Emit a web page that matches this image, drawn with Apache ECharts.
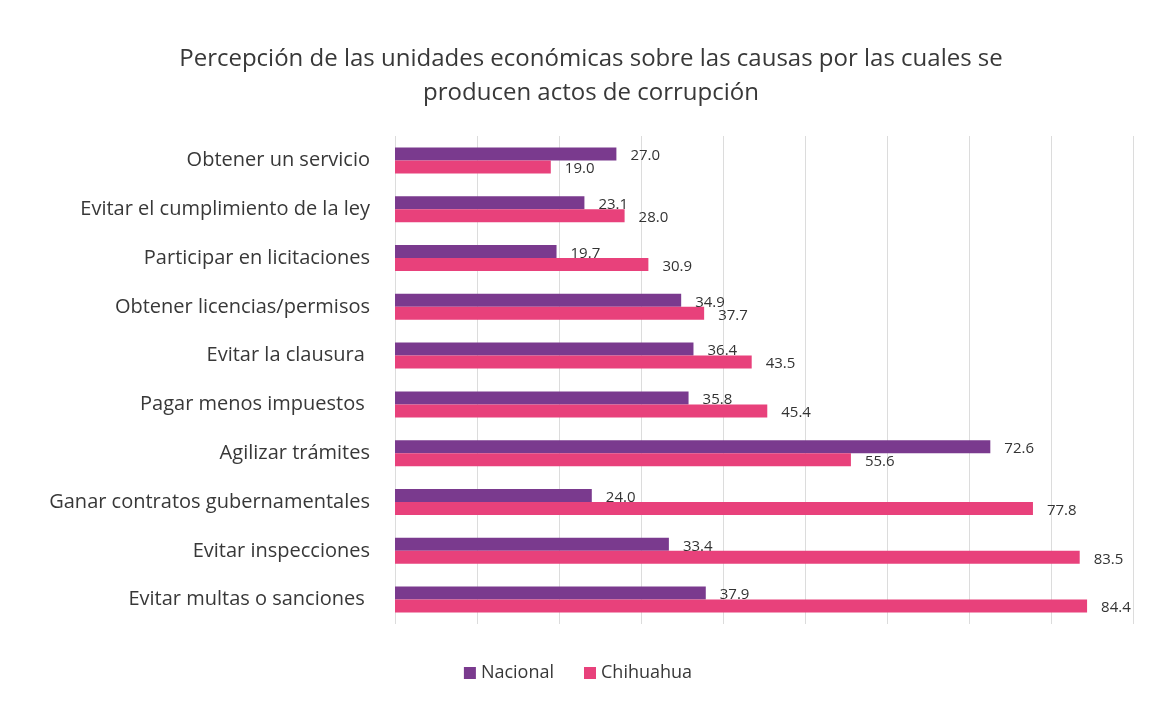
<!DOCTYPE html>
<html>
<head>
<meta charset="utf-8">
<script src="https://cdn.jsdelivr.net/npm/echarts@6/dist/echarts.min.js"></script>
<style>
  html, body { margin: 0; padding: 0; background: #ffffff; }
  #chart { width: 1156px; height: 708px; }
</style>
</head>
<body>
<div id="chart"></div>
<script>
// Causes of corruption as perceived by businesses (%)
const categories = [
  'Obtener un servicio',
  'Evitar el cumplimiento de la ley',
  'Participar en licitaciones',
  'Obtener licencias/permisos',
  'Evitar la clausura ',
  'Pagar menos impuestos ',
  'Agilizar trámites',
  'Ganar contratos gubernamentales',
  'Evitar inspecciones',
  'Evitar multas o sanciones '
];
const nacional  = [27.0, 23.1, 19.7, 34.9, 36.4, 35.8, 72.6, 24.0, 33.4, 37.9];
const chihuahua = [19.0, 28.0, 30.9, 37.7, 43.5, 45.4, 55.6, 77.8, 83.5, 84.4];

const font = '"Open Sans", Lato, sans-serif';
const chart = echarts.init(document.getElementById('chart'));

const labelStyle = {
  show: true,
  position: 'right',
  distance: 14,
  color: '#333',
  fontSize: 15,
  fontFamily: font,
  formatter: p => p.value.toFixed(1)
};

chart.setOption({
  animation: false,
  title: {
    text: 'Percepción de las unidades económicas sobre las causas por las cuales se\nproducen actos de corrupción',
    left: 586,
    top: 37,
    textAlign: 'center',
    textStyle: { fontFamily: font, fontSize: 24, fontWeight: 'normal', color: '#383838', lineHeight: 34 }
  },
  legend: {
    bottom: 21,
    left: 'center',
    itemWidth: 12,
    itemHeight: 12,
    itemGap: 30,
    icon: 'rect',
    textStyle: { fontFamily: font, fontSize: 18, color: '#383838' },
    data: ['Nacional', 'Chihuahua']
  },
  grid: { left: 395, right: 23, top: 136, bottom: 84 },
  xAxis: {
    type: 'value',
    min: 0,
    max: 90,
    interval: 10,
    axisLabel: { show: false },
    axisLine: { show: false },
    axisTick: { show: false },
    splitLine: { show: true, lineStyle: { color: '#dcdcdc', width: 1 } }
  },
  yAxis: {
    type: 'category',
    inverse: true,
    data: categories,
    axisLine: { show: false },
    axisTick: { show: false },
    axisLabel: { margin: 25, fontFamily: font, fontSize: 20, color: '#383838' }
  },
  series: [
    {
      name: 'Nacional',
      type: 'bar',
      data: nacional,
      barWidth: 13,
      barGap: '0%',
      itemStyle: { color: '#7a3a8e' },
      label: Object.assign({}, labelStyle, { offset: [0, 2] })
    },
    {
      name: 'Chihuahua',
      type: 'bar',
      data: chihuahua,
      barWidth: 13,
      barGap: '0%',
      itemStyle: { color: '#e8417b' },
      label: Object.assign({}, labelStyle, { offset: [0, 2] })
    }
  ]
});
</script>
</body>
</html>
